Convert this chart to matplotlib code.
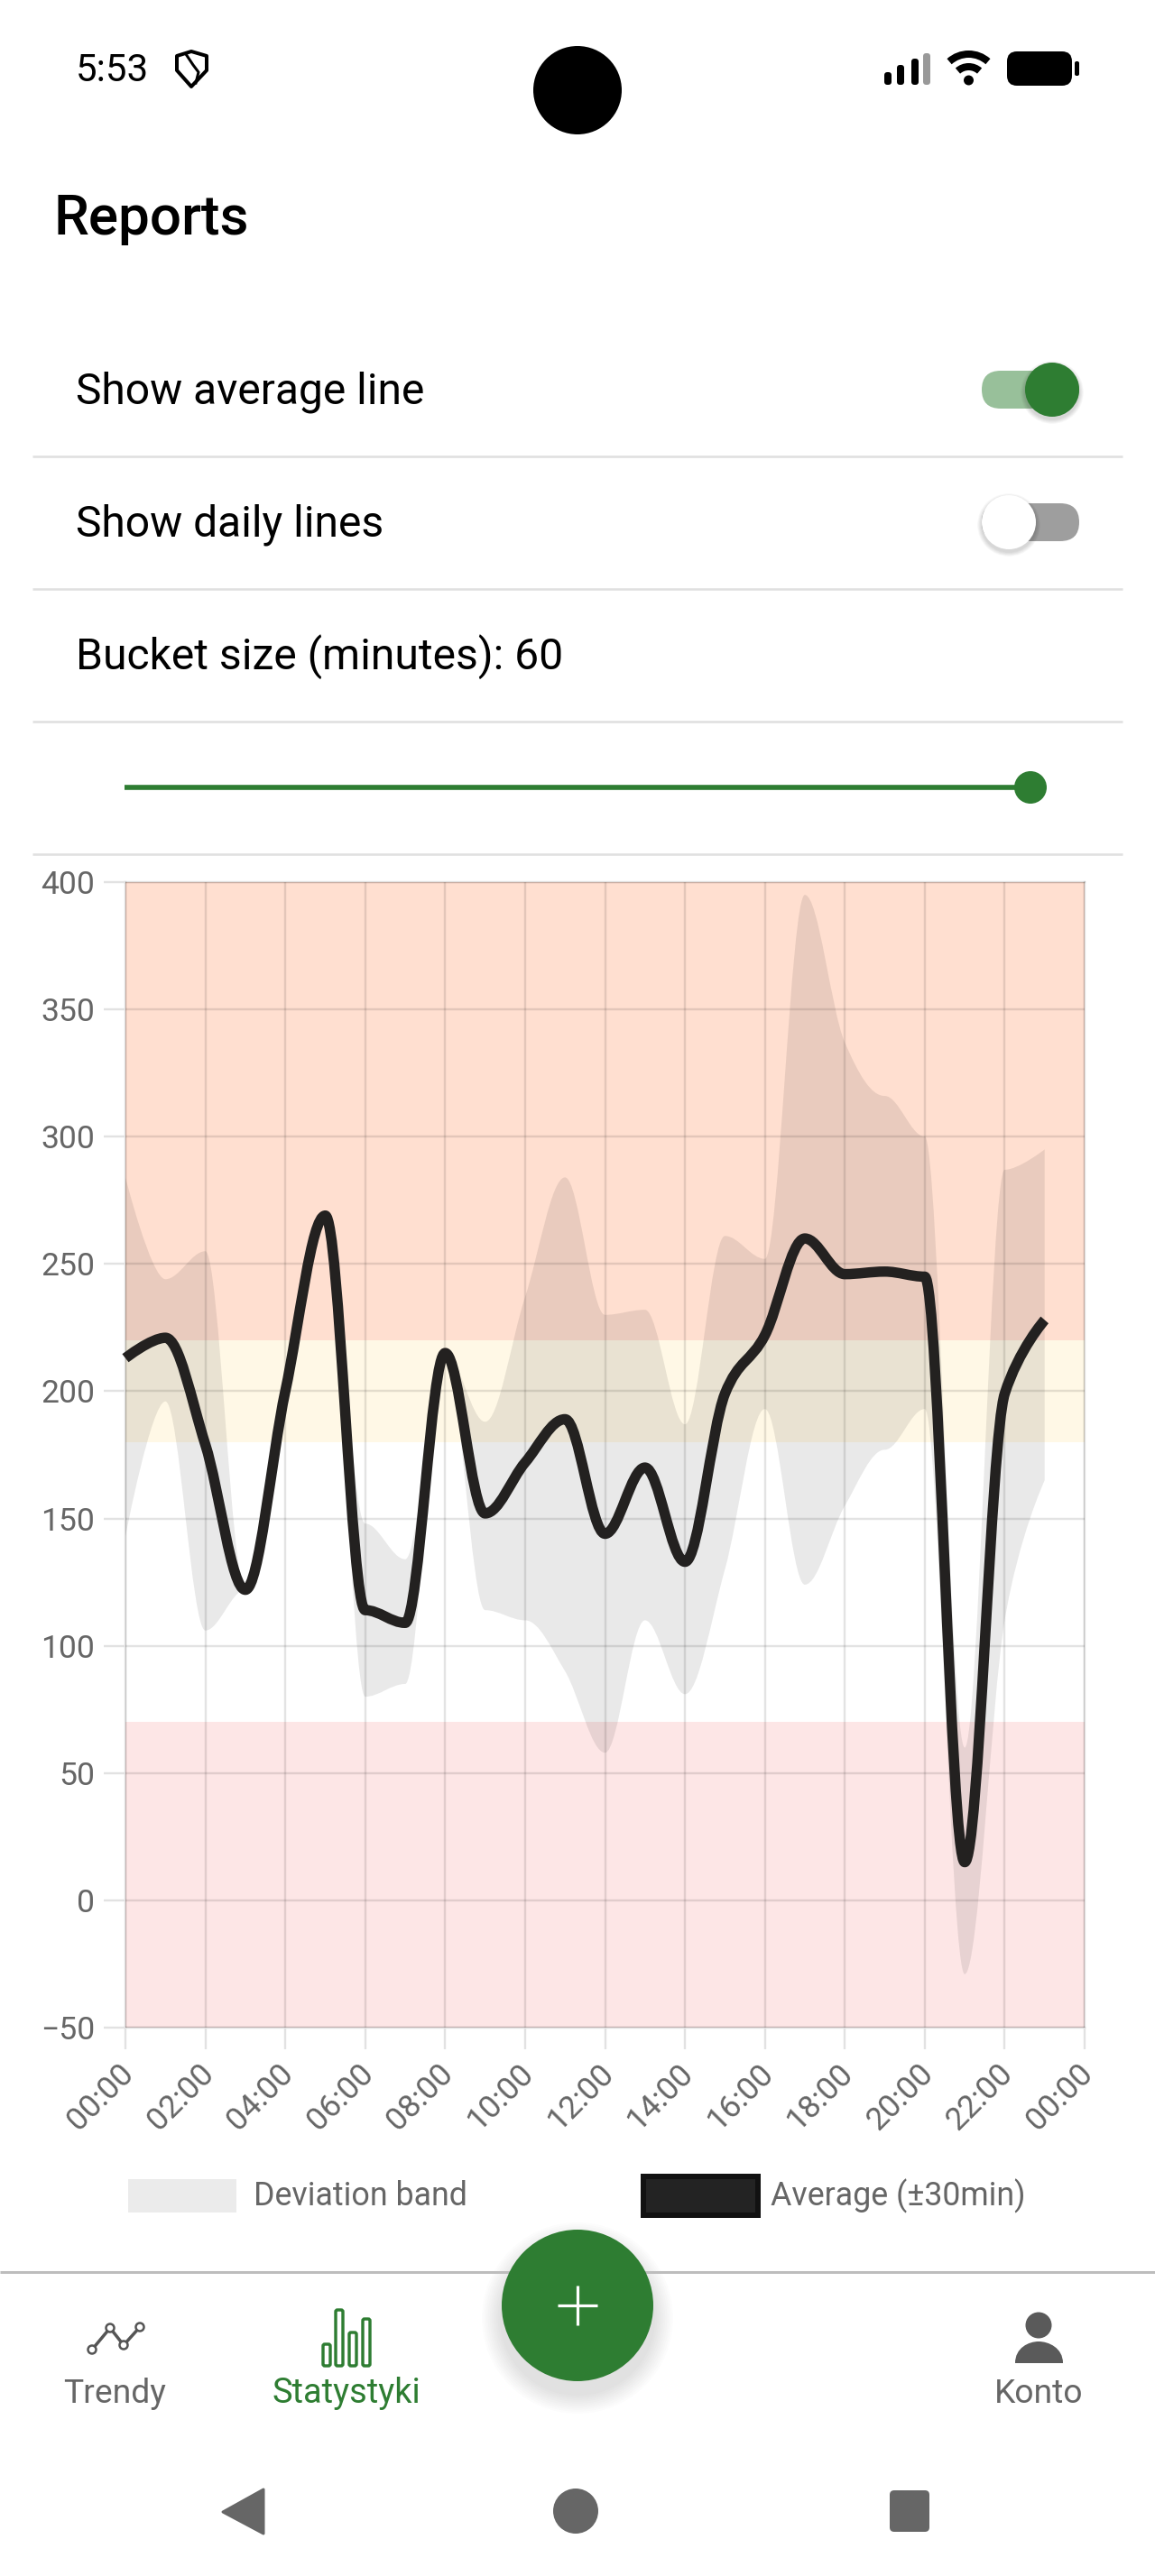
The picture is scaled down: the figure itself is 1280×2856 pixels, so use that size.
import numpy as np
import matplotlib
matplotlib.use("Agg")
import matplotlib.pyplot as plt
from matplotlib.patches import Circle, FancyBboxPatch, PathPatch, Polygon, Rectangle, Arc
from matplotlib.path import Path
from matplotlib.transforms import ScaledTranslation

plt.rcParams['font.family'] = ['Roboto', 'DejaVu Sans']

# hourly buckets
hours = list(range(24))
average = [213, 221, 179, 122, 200, 269, 114, 109, 215, 152, 172, 189,
           144, 170, 133, 199, 222, 260, 246, 247, 245, 15, 199, 228]
band_upper = [284, 244, 255, 122, 200, 269, 148, 134, 215, 188, 237, 284,
              230, 232, 187, 261, 252, 395, 337, 316, 300, 60, 287, 295]
band_lower = [143, 196, 106, 122, 200, 269, 80, 85, 215, 114, 110, 90,
              58, 110, 81, 130, 193, 124, 155, 177, 193, -29, 110, 165]

tick_hours = list(range(0, 25, 2))
tick_labels = ['00:00', '02:00', '04:00', '06:00', '08:00', '10:00', '12:00',
               '14:00', '16:00', '18:00', '20:00', '22:00', '00:00']
y_ticks = [-50, 0, 50, 100, 150, 200, 250, 300, 350, 400]

zones = [(220, 400, '#ffdfd0'), (180, 220, '#fff8e6'), (-50, 70, '#fde6e6')]

GREEN = '#2e7d32'
GREY = '#666666'
W, H = 1280, 2856
px = 0.72  # pixels to points at dpi 100


def curve_segments(xs, ys, smooth=0.35, thresh=16.5):
    # curve with no overshoot: tangent goes flat at peaks and next to small steps
    n = len(xs)
    verts = [(xs[0], ys[0])]
    codes = [Path.MOVETO]
    tx, ty = 0.0, 0.0
    for i in range(n):
        prv, nxt = max(i - 1, 0), min(i + 1, n - 1)
        c1 = (xs[prv] + tx, ys[prv] + ty)
        tx = (xs[nxt] - xs[prv]) / 2 * smooth
        ty = (ys[nxt] - ys[prv]) / 2 * smooth
        step_a, step_b = ys[i] - ys[prv], ys[nxt] - ys[i]
        if abs(step_a) <= thresh or abs(step_b) <= thresh or step_a * step_b < 0:
            ty = 0.0
        else:
            lim = 0.6 * min(abs(step_a), abs(step_b))
            ty = max(-lim, min(lim, ty))
        if xs[nxt] - xs[i] <= 0 or xs[i] - xs[prv] <= 0:
            tx = 0.0
        if i > 0:
            verts += [c1, (xs[i] - tx, ys[i] - ty), (xs[i], ys[i])]
            codes += [Path.CURVE4] * 3
    return verts, codes


fig = plt.figure(figsize=(W / 100, H / 100), dpi=100, facecolor='white')

# chart
ax = fig.add_axes([139 / W, 1 - 2248 / H, (1202 - 139) / W, (2248 - 978) / H])
ax.set_xlim(0, 24)
ax.set_ylim(-50, 400)
for lo, hi, col in zones:
    ax.axhspan(lo, hi, color=col, lw=0, zorder=0.5)

up_v, up_c = curve_segments(hours, band_upper)
lo_v, lo_c = curve_segments(hours, band_lower)
band_path = Path(up_v + lo_v[::-1] + [up_v[0]],
                 up_c + [Path.LINETO] + lo_c[1:] + [Path.LINETO])
ax.add_patch(PathPatch(band_path, facecolor='black', alpha=0.085, lw=0, zorder=1))

v, c = curve_segments(hours, average)
ax.add_patch(PathPatch(Path(v, c), facecolor='none', edgecolor='#232120', lw=11.5 * px,
                       capstyle='butt', joinstyle='round', zorder=3, clip_on=False))

ax.set_xticks(tick_hours)
ax.set_xticklabels(tick_labels, rotation=45, ha='right', va='center', rotation_mode='anchor')
ax.set_yticks(y_ticks)
ax.set_axisbelow(False)
ax.tick_params(axis='both', length=24 * px, width=2.4 * px, color='#e2e2e2',
               labelcolor=GREY, labelsize=35.5 * px)
ax.tick_params(axis='y', pad=10 * px)
ax.tick_params(axis='x', pad=22 * px)
ax.grid(True, color='black', alpha=0.11, lw=2.4 * px)
shift = ScaledTranslation(4 / 100, 0, fig.dpi_scale_trans)
for lab in ax.get_xticklabels():
    lab.set_transform(lab.get_transform() + shift)
for s in ax.spines.values():
    s.set_color('black')
    s.set_alpha(0.12)
    s.set_linewidth(2.4 * px)

# screen chrome, in pixel coordinates
ui = fig.add_axes([0, 0, 1, 1], facecolor='none', zorder=5)
ui.set_xlim(0, W)
ui.set_ylim(H, 0)
ui.axis('off')


def txt(x, y, s, size, color='black', ha='left', va='center', weight='normal'):
    ui.text(x, y, s, fontsize=size * px, color=color, ha=ha, va=va, fontweight=weight)


def pill(x0, y0, x1, y1, r, color, z=2):
    ui.add_patch(FancyBboxPatch((x0 + r, y0 + r), x1 - x0 - 2 * r, y1 - y0 - 2 * r,
                                boxstyle=f'round,pad={r},rounding_size={r}',
                                fc=color, ec='none', zorder=z))


def shadow(cx, cy, r, dy, spread, alpha=0.02, steps=8):
    for k in range(steps):
        ui.add_patch(Circle((cx, cy + dy), r + spread * (1 - k / steps), fc='black',
                            ec='none', alpha=alpha, zorder=1.5))


# status bar
txt(84, 79, '5:53', 42)
ui.add_patch(Polygon([(196, 62), (212, 57), (229, 62), (229, 78), (212, 96), (196, 78)],
                     closed=True, fc='white', ec='black', lw=4 * px, joinstyle='round'))
ui.plot([206, 214, 220, 217], [60, 72, 80, 92], color='black', lw=3 * px)
ui.add_patch(Circle((640, 100), 49, fc='black', ec='none'))
for x, top, col in zip([984, 998, 1014, 1027], [80, 72, 65, 59],
                       ['black', 'black', 'black', '#999999']):
    pill(x - 4, top, x + 4, 94, 3.5, col)
for r, lw in [(32, 8), (18, 8)]:
    ui.add_patch(Arc((1073.5, 92), 2 * r, 2 * r, theta1=228, theta2=312, color='black', lw=lw * px))
ui.add_patch(Circle((1073.5, 89), 5.5, fc='black', ec='none'))
pill(1116, 57, 1188, 95, 11, 'black')
pill(1191, 68, 1196, 84, 2, 'black')

txt(59, 243, 'Reports', 62, weight=500)

# settings rows
for y in [506, 653, 800, 947]:
    ui.plot([36, 1244], [y, y], color='#e0e0e0', lw=2.6 * px, solid_capstyle='butt')
txt(84, 435, 'Show average line', 48)
txt(84, 582, 'Show daily lines', 48)
txt(84, 728, 'Bucket size (minutes): 60', 48)

pill(1088, 411, 1196, 453, 21, '#98c09a', z=1)
shadow(1166, 432, 30, 3, 5)
ui.add_patch(Circle((1166, 432), 30, fc=GREEN, ec='none', zorder=3))
pill(1088, 558, 1196, 600, 21, '#9e9e9e', z=1)
shadow(1118, 579, 30, 3, 5)
ui.add_patch(Circle((1118, 579), 30, fc='white', ec='none', zorder=3))

ui.plot([138, 1142], [873, 873], color=GREEN, lw=5.6 * px, solid_capstyle='butt')
ui.add_patch(Circle((1142, 873), 18, fc=GREEN, ec='none', zorder=3))

# legend
ui.add_patch(Rectangle((142, 2416), 120, 37, fc='#ebebeb', ec='none'))
txt(281, 2435, 'Deviation band', 35.7, color=GREY)
ui.add_patch(Rectangle((713, 2413), 127, 43, fc='#232323', ec='#111111', lw=6 * px))
txt(854, 2435, 'Average (±30min)', 35.7, color=GREY)

# bottom navigation
ui.plot([0, W], [2519, 2519], color='#bdbdbd', lw=3 * px, solid_capstyle='butt')
shadow(640, 2562, 84, 8, 22, alpha=0.012, steps=10)
ui.add_patch(Circle((640, 2556), 84, fc=GREEN, ec='none', zorder=3))
ui.plot([640, 640], [2534, 2578], color='white', lw=3.2 * px, zorder=4, solid_capstyle='butt')
ui.plot([618, 662], [2556, 2556], color='white', lw=3.2 * px, zorder=4, solid_capstyle='butt')

ui.plot([102, 122, 137, 155], [2605, 2581, 2600, 2580], color='#555555', lw=3.5 * px, zorder=2)
for x, y in zip([102, 122, 137, 155], [2605, 2581, 2600, 2580]):
    ui.add_patch(Circle((x, y), 4.5, fc='white', ec='#555555', lw=2.5 * px, zorder=3))
for x, top in zip([362, 376, 391, 406], [2600, 2562, 2587, 2572]):
    ui.add_patch(FancyBboxPatch((x - 3, top), 6, 2622 - top, boxstyle='round,pad=1,rounding_size=2',
                                fc='white', ec=GREEN, lw=3.4 * px))
ui.add_patch(Circle((1151, 2578), 14.5, fc='#5a5a5a', ec='none'))
ui.add_patch(PathPatch(Path([(1125, 2620), (1125, 2603), (1140, 2596), (1151, 2596),
                             (1162, 2596), (1178, 2603), (1178, 2620), (1125, 2620)],
                            [Path.MOVETO, Path.CURVE4, Path.CURVE4, Path.CURVE4,
                             Path.CURVE4, Path.CURVE4, Path.CURVE4, Path.CLOSEPOLY]),
                       fc='#5a5a5a', ec='none'))
txt(127, 2654, 'Trendy', 37.3, color=GREY, ha='center')
txt(384, 2654, 'Statystyki', 38, color=GREEN, ha='center')
txt(1151, 2654, 'Konto', 37.3, color=GREY, ha='center')

# android nav buttons
ui.add_patch(Polygon([(292, 2760), (292, 2809), (247, 2785)], closed=True, fc=GREY, ec=GREY,
                     lw=3 * px, joinstyle='round'))
ui.add_patch(Circle((638, 2784), 25, fc=GREY, ec='none'))
pill(986, 2761, 1030, 2807, 5, GREY)

fig.savefig('out.png', dpi=100)
